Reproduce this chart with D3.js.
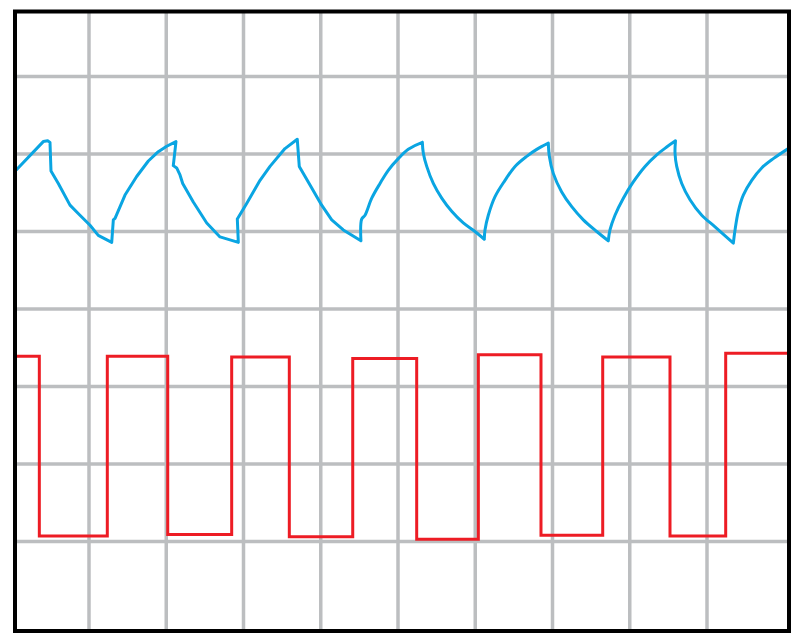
<!DOCTYPE html>
<html><head><meta charset="utf-8">
<script src="https://cdn.jsdelivr.net/npm/d3@7/dist/d3.min.js"></script>
<style>html,body{margin:0;padding:0;background:#fff;}svg{display:block;}</style>
</head><body>
<script>
// Data in screen divisions (x: 0..10, y: -4..4, 0 = centre line)
const blueX = [0.064,0.408,0.465,0.495,0.508,0.603,0.754,0.883,1.013,1.120,1.294,1.315,1.337,1.466,1.617,1.768,1.897,2.006,2.126,2.091,2.135,2.178,2.213,2.350,2.524,2.696,2.933,2.920,3.041,3.214,3.343,3.537,3.696,3.722,3.861,4.012,4.142,4.292,4.520,
  4.530,4.573,4.660,4.767,4.874,5.004,5.133,5.315,5.328,5.372,5.457,5.566,5.695,5.845,5.997,6.117,6.126,6.169,6.256,6.385,6.515,6.666,6.796,6.946,6.959,7.010,7.119,7.249,7.399,7.572,7.722,7.744,7.809,7.917,8.046,8.198,8.349,8.478,8.592,8.586,8.608,8.673,8.780,8.932,9.104,9.341,9.363,9.405,9.470,9.579,9.708,9.858,10.052];
const blueY = [1.80,2.16,2.17,2.15,1.78,1.62,1.34,1.21,1.08,0.95,0.86,1.15,1.17,1.47,1.71,1.91,2.03,2.10,2.16,1.85,1.82,1.73,1.62,1.38,1.11,0.93,0.86,1.16,1.36,1.66,1.84,2.07,2.19,1.84,1.60,1.34,1.15,1.02,0.88,
  1.16,1.21,1.43,1.62,1.79,1.94,2.06,2.15,2.01,1.84,1.62,1.43,1.26,1.11,1.00,0.90,1.02,1.21,1.45,1.66,1.84,1.97,2.06,2.14,1.97,1.75,1.51,1.32,1.15,1.00,0.88,1.02,1.21,1.43,1.64,1.84,1.99,2.09,2.17,2.01,1.84,1.62,1.41,1.21,1.06,0.85,1.02,1.26,1.47,1.66,1.82,1.94,2.07];
const redX = [0.05,0.357,1.237,2.019,2.847,3.593,4.414,5.242,6.040,6.851,7.650,8.521,9.242,10.06];
const redY = [-0.61,-2.93,-0.61,-2.91,-0.62,-2.94,-0.64,-2.97,-0.59,-2.92,-0.62,-2.93,-0.57,-0.57];
const gridX = [1,2,3,4,5,6,7,8,9];
const gridY = [3,2,1,0,-1,-2,-3];
const smoothFrom = 4.52; // trace becomes a smooth RC curve from here on

const W = 800, H = 641;
const x = d3.scaleLinear().domain([0,10]).range([11.75,784.25]);
const y = d3.scaleLinear().domain([4,-4]).range([-1,619]);

const svg = d3.select("body").append("svg").attr("width",W).attr("height",H);
const frame = {x0:15, y0:11.5, x1:789, y1:631};

svg.append("defs").append("clipPath").attr("id","clip")
  .append("rect").attr("x",frame.x0).attr("y",frame.y0)
  .attr("width",frame.x1-frame.x0).attr("height",frame.y1-frame.y0);

const g = svg.append("g").attr("clip-path","url(#clip)");
g.selectAll("line.gx").data(gridX).join("line").attr("class","gx")
  .attr("x1",d=>x(d)).attr("x2",d=>x(d)).attr("y1",frame.y0).attr("y2",frame.y1)
  .attr("stroke","#bcbec0").attr("stroke-width",3.5);
g.selectAll("line.gy").data(gridY).join("line").attr("class","gy")
  .attr("y1",d=>y(d)).attr("y2",d=>y(d)).attr("x1",frame.x0).attr("x2",frame.x1)
  .attr("stroke","#bcbec0").attr("stroke-width",3.5);

const blue = blueX.map((v,i)=>[v,blueY[i]]);
const red = redX.map((v,i)=>[v,redY[i]]);

// linear part
const linPart = blue.filter(d=>d[0] <= smoothFrom);
const smoothPart = blue.slice(linPart.length-1);
// split smooth part into monotonic runs (break at peaks/troughs)
const runs = [];
let cur = [smoothPart[0]];
let dir = 0;
for (let i=1;i<smoothPart.length;i++){
  const d = Math.sign(smoothPart[i][1]-smoothPart[i-1][1]);
  if (dir !== 0 && d !== 0 && d !== dir){ runs.push(cur); cur=[smoothPart[i-1]]; }
  if (d !== 0) dir = d;
  cur.push(smoothPart[i]);
}
runs.push(cur);

const lineLin = d3.line().x(d=>x(d[0])).y(d=>y(d[1])).curve(d3.curveLinear);
const lineSm = d3.line().x(d=>x(d[0])).y(d=>y(d[1])).curve(d3.curveCatmullRom.alpha(0.5));
const dStr = lineLin(linPart) + runs.map(r=>lineSm(r)).join("");

g.append("path").attr("d", dStr)
  .attr("fill","none").attr("stroke","#0aa5e2").attr("stroke-width",3)
  .attr("stroke-linejoin","round").attr("stroke-linecap","round");
g.append("path").datum(red)
  .attr("d", d3.line().x(d=>x(d[0])).y(d=>y(d[1])).curve(d3.curveStepAfter))
  .attr("fill","none").attr("stroke","#ed1c24").attr("stroke-width",3);

svg.append("rect").attr("x",frame.x0).attr("y",frame.y0)
  .attr("width",frame.x1-frame.x0).attr("height",frame.y1-frame.y0)
  .attr("fill","none").attr("stroke","#000").attr("stroke-width",4);
</script>
</body></html>
